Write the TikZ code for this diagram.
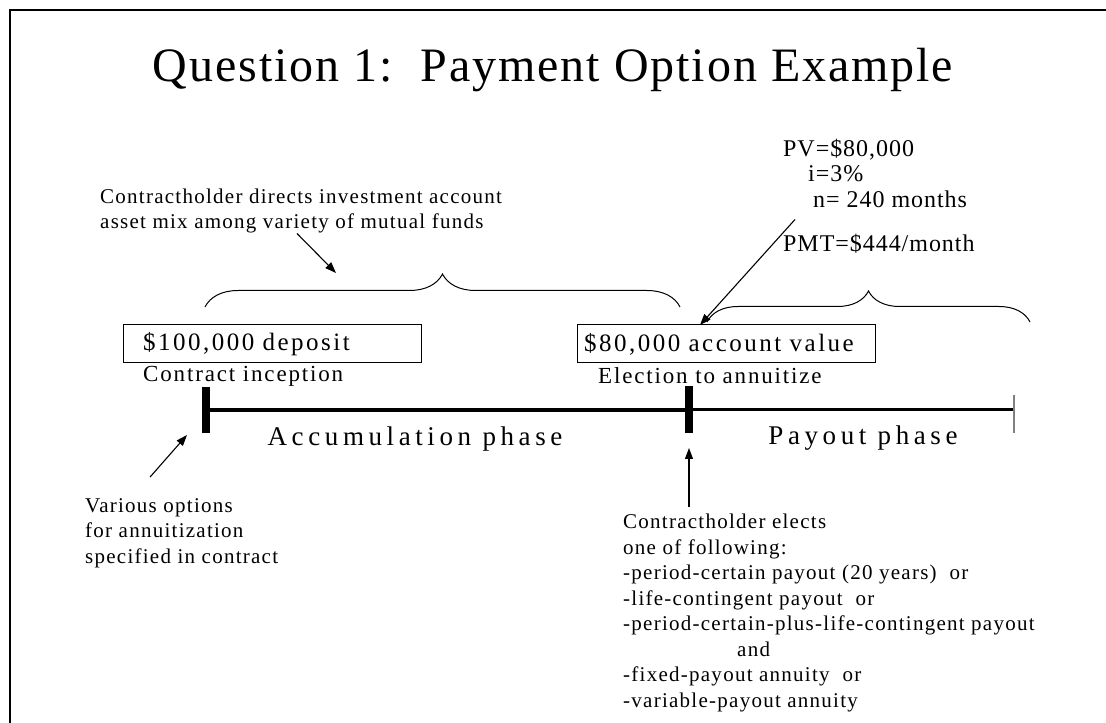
\documentclass[tikz,border=0pt]{standalone}
\usepackage{fontspec}
\setmainfont{Liberation Serif}
\newfontfamily\titlefont[LetterSpace=4]{Liberation Serif}
\newfontfamily\phasefont[LetterSpace=17]{Liberation Serif}
\newfontfamily\boxfont[LetterSpace=10, WordSpace=1.4]{Liberation Serif}
\newfontfamily\labfont[LetterSpace=8]{Liberation Serif}
\newfontfamily\valfont[LetterSpace=4]{Liberation Serif}
\newfontfamily\notefont[LetterSpace=6]{Liberation Serif}
\usepackage{tikz}
\usetikzlibrary{arrows.meta, positioning, decorations.pathreplacing}

\begin{document}
\begin{tikzpicture}[
    x=1pt, y=1pt, >={Triangle[length=11pt, width=8pt]},
    note/.style={font=\notefont\fontsize{21}{25.5}\selectfont, align=left, inner sep=0pt, anchor=west},
    lab/.style={font=\labfont\fontsize{23}{25.5}\selectfont, align=left, inner sep=0pt, anchor=west},
    val/.style={font=\valfont\fontsize{24}{25.5}\selectfont, align=left, inner sep=0pt, anchor=west},
    valbox/.style={draw, line width=1pt, minimum height=38pt, inner ysep=0pt, align=left, font=\boxfont\fontsize{25}{28}\selectfont},
    phase/.style={font=\phasefont\fontsize{27}{30}\selectfont, inner sep=0pt},
    arr/.style={->, line width=1.1pt},
    span/.style={decorate, decoration={brace, amplitude=33pt}, line width=1pt}
]
    \useasboundingbox (0,0) rectangle (1106,723);

    % Frame
    \draw[line width=2.5pt] (10,-5) -- (10,713) -- (1115,713);

    % Title
    \node[font=\titlefont\fontsize{48}{54}\selectfont] (title) at (553,653) {Question 1:\ \ Payment Option Example};

    % Annotations above
    \node[note] (mixnote) at (100,512) {Contractholder directs investment account\\asset mix among variety of mutual funds};
    \node[val] (pvnote) at (783,550) {PV=\$80,000\\\hspace*{25pt}i=3\%\\\hspace*{30pt}n= 240 months};
    \node[val] (pmtnote) at (783,479) {PMT=\$444/month};

    % Braces
    \coordinate (accl) at (205,416);
    \coordinate (accr) at (680,416);
    \coordinate (payl) at (707,401);
    \coordinate (payr) at (1030,401);
    \draw[span] (accl) -- (accr);
    \draw[span, decoration={amplitude=31pt}] (payl) -- (payr);

    % Value boxes
    \node[valbox, text width=258pt, inner xsep=20pt] (deposit) at (272,379) {\$100,000 deposit};
    \node[valbox, text width=284pt, inner xsep=7pt] (account) at (726,379) {\$80,000 account value};
    \node[lab] (inception) at (143,347) {Contract inception};
    \node[lab] (election) at (598,347) {Election to annuitize};

    % Timeline
    \coordinate (start) at (206,313);
    \coordinate (elect) at (689,313);
    \coordinate (finish) at (1014,313);
    \draw[line width=4.5pt] (start) -- (elect);
    \draw[line width=3pt] (elect) -- (finish);
    \draw[line width=8pt] (206,336) -- (206,290);
    \draw[line width=8pt] (689,337) -- (689,290);
    \draw[line width=1.5pt, gray] (1014,328) -- (1014,290);
    \node[phase] (accum) at (415,284) {Accumulation phase};
    \node[phase] (payout) at (863,285) {Payout phase};

    % Notes below
    \node[note] (various) at (85,190) {Various options\\for annuitization\\specified in contract};
    \node[note] (elects) at (623,110) {Contractholder elects\\one of following:\\-period-certain payout (20 years)\ \ or\\-life-contingent payout\ \ or\\-period-certain-plus-life-contingent payout\\\hspace*{114pt}and\\-fixed-payout annuity\ \ or\\-variable-payout annuity};

    % Arrows
    \coordinate (mixtip) at (336,450);
    \coordinate (accounttip) at (700,398);
    \coordinate (starttip) at (187,288);
    \coordinate (electtip) at (689,275);
    \draw[arr] ([xshift=197pt]mixnote.south west) -- (mixtip);
    \draw[arr] ([xshift=12pt, yshift=-12pt]pvnote.south west) -- (accounttip);
    \draw[arr] ([xshift=65pt, yshift=21pt]various.north west) -- (starttip);
    \draw[arr] (elects.north west -| elect) ++(0,7) -- (electtip);
\end{tikzpicture}
\end{document}
